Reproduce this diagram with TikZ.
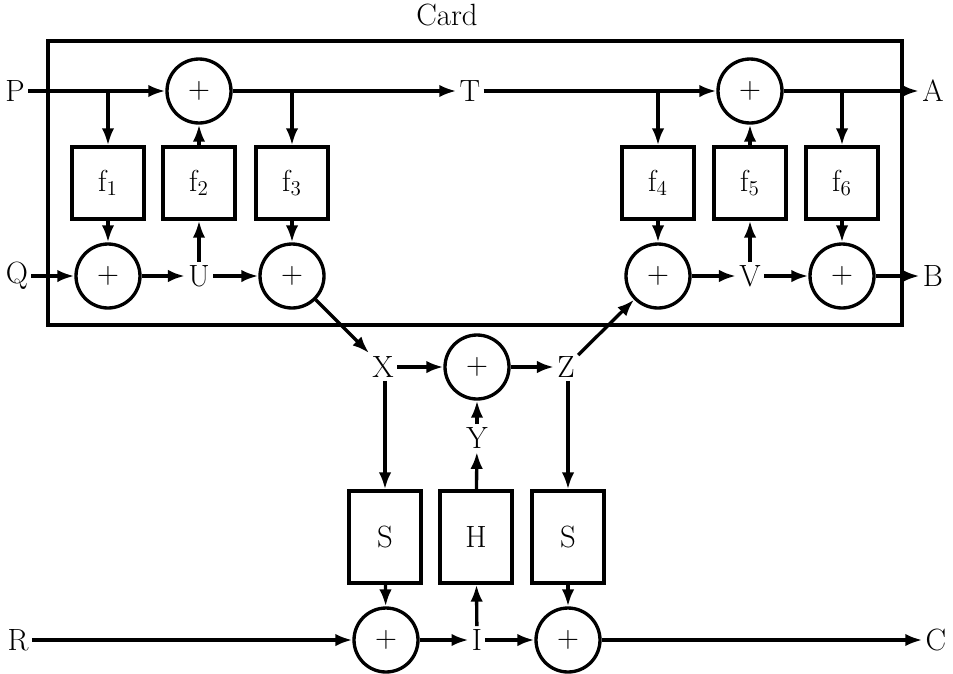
\documentclass[tikz,border=0pt]{standalone}
\usetikzlibrary{arrows.meta}
\begin{document}
\begin{tikzpicture}[x=0.02cm,y=-0.02cm,line width=1.9pt,
  >={Latex[length=3.4mm,width=2.5mm]},
  font=\fontsize{17.5}{21}\selectfont,
  adder/.style={draw,circle,minimum size=1.28cm,inner sep=0pt},
  fbox/.style={draw,rectangle,minimum width=1.44cm,minimum height=1.44cm,inner sep=0pt},
  sbox/.style={draw,rectangle,minimum width=1.44cm,minimum height=1.84cm,inner sep=0pt},
  lab/.style={inner sep=1pt}]

\useasboundingbox (0,0) rectangle (953,673);

% The card
\draw (48,41) rectangle (902,325);
\node (card) at (447,15) {Card};

% Top row
\node[lab] (P) at (15,91) {P};
\node[adder] (sA) at (199,91) {$+$};
\node[lab] (T) at (470,91) {T};
\node[adder] (sB) at (750,91) {$+$};
\node[lab] (A) at (933,91) {A};

% Round functions
\node[fbox] (f1) at (108,183) {$\mathrm{f}_1$};
\node[fbox] (f2) at (199,183) {$\mathrm{f}_2$};
\node[fbox] (f3) at (292,183) {$\mathrm{f}_3$};
\node[fbox] (f4) at (658,183) {$\mathrm{f}_4$};
\node[fbox] (f5) at (750,183) {$\mathrm{f}_5$};
\node[fbox] (f6) at (842,183) {$\mathrm{f}_6$};

% Bottom row of the card
\node[lab] (Q) at (17,276) {Q};
\node[adder] (s1) at (108,276) {$+$};
\node[lab] (U) at (199,276) {U};
\node[adder] (s3) at (292,276) {$+$};
\node[adder] (s4) at (658,276) {$+$};
\node[lab] (V) at (750,276) {V};
\node[adder] (s6) at (842,276) {$+$};
\node[lab] (B) at (933,276) {B};

% Middle part
\node[lab] (X) at (383,367) {X};
\node[adder] (sX) at (477,367) {$+$};
\node[lab] (Z) at (566,367) {Z};
\node[lab] (Y) at (477,438) {Y};
\node[sbox] (S1) at (385,537) {S};
\node[sbox] (H) at (476,537) {H};
\node[sbox] (S2) at (568,537) {S};

% Bottom row
\node[lab] (R) at (18,640) {R};
\node[adder] (sR) at (386,640) {$+$};
\node[lab] (I) at (477,640) {I};
\node[adder] (sC) at (568,640) {$+$};
\node[lab] (C) at (936,640) {C};

% Branch points
\coordinate (b1) at (108,91);
\coordinate (b3) at (292,91);
\coordinate (b4) at (658,91);
\coordinate (b6) at (842,91);
\coordinate (bX) at (385,367);
\coordinate (bZ) at (568,367);

% Top line
\draw[->] (P) -- (sA);
\draw[->] (sA) -- (T);
\draw[->] (T) -- (sB);
\draw[->] (sB) -- (A);
\draw[->] (b1) -- (f1);
\draw[->] (b3) -- (f3);
\draw[->] (b4) -- (f4);
\draw[->] (b6) -- (f6);
\draw[->] (f2) -- (sA);
\draw[->] (f5) -- (sB);

% Lower line of the card
\draw[->] (Q) -- (s1);
\draw[->] (f1) -- (s1);
\draw[->] (s1) -- (U);
\draw[->] (U) -- (f2);
\draw[->] (U) -- (s3);
\draw[->] (f3) -- (s3);
\draw[->] (f4) -- (s4);
\draw[->] (s4) -- (V);
\draw[->] (V) -- (f5);
\draw[->] (V) -- (s6);
\draw[->] (f6) -- (s6);
\draw[->] (s6) -- (B);

% Out of the card and back
\draw[->] (s3) -- (X);
\draw[->] (X) -- (sX);
\draw[->] (sX) -- (Z);
\draw[->] (Z) -- (s4);
\draw[->] (Y) -- (sX);
\draw[->] (H) -- (Y);
\draw[->] (X.south -| bX) -- (S1);
\draw[->] (Z.south -| bZ) -- (S2);

% Bottom line
\draw[->] (R) -- (sR);
\draw[->] (S1) -- (sR);
\draw[->] (sR) -- (I);
\draw[->] (I) -- (H);
\draw[->] (I) -- (sC);
\draw[->] (S2) -- (sC);
\draw[->] (sC) -- (C);

\end{tikzpicture}
\end{document}
